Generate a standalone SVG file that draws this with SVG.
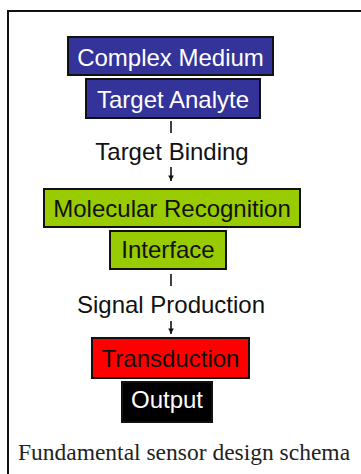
<svg xmlns="http://www.w3.org/2000/svg" width="361" height="474" viewBox="0 0 361 474">
  <style>
    .box { stroke: #111; stroke-width: 2; }
    .lbl { font-family: "Liberation Sans", Arial, sans-serif; font-size: 24px; text-anchor: middle; }
    .light { fill: #ffffff; }
    .dark { fill: #111111; }
    .conn { stroke: #111; stroke-width: 1.6; fill: none; }
    .cap { font-family: "Liberation Serif", "Times New Roman", serif; font-size: 23.5px; text-anchor: middle; fill: #222; }
  </style>
  <defs>
    <marker id="arrow" viewBox="0 0 10 10" refX="10" refY="5" markerWidth="3.5" markerHeight="3.5" orient="auto" markerUnits="strokeWidth">
      <path d="M0,0 L10,5 L0,10 Z" fill="#111"/>
    </marker>
  </defs>

  <rect width="361" height="474" fill="#ffffff"/>
  <!-- frame: top and left edges -->
  <path d="M8,474 V11 H361" fill="none" stroke="#111" stroke-width="2"/>

  <g id="complex-medium">
    <rect class="box" x="68" y="37" width="205" height="38" fill="#333399"/>
    <text class="lbl light" x="170.5" y="66">Complex Medium</text>
  </g>
  <g id="target-analyte">
    <rect class="box" x="86" y="79" width="174" height="39" fill="#333399"/>
    <text class="lbl light" x="173" y="108">Target Analyte</text>
  </g>
  <g id="target-binding">
    <text class="lbl dark" x="172" y="160">Target Binding</text>
  </g>
  <g id="molecular-recognition">
    <rect class="box" x="44" y="189" width="256" height="38" fill="#99cc00"/>
    <text class="lbl dark" x="172" y="217">Molecular Recognition</text>
  </g>
  <g id="interface">
    <rect class="box" x="110" y="231" width="116" height="38" fill="#99cc00"/>
    <text class="lbl dark" x="168" y="258">Interface</text>
  </g>
  <g id="signal-production">
    <text class="lbl dark" x="171" y="313">Signal Production</text>
  </g>
  <g id="transduction">
    <rect class="box" x="92" y="338" width="157" height="40" fill="#ff0000"/>
    <text class="lbl dark" x="170.5" y="367">Transduction</text>
  </g>
  <g id="output">
    <rect class="box" x="122" y="382" width="90" height="40" fill="#000000"/>
    <text class="lbl light" x="167" y="408">Output</text>
  </g>

  <g id="connectors">
    <line class="conn" x1="171" y1="121" x2="171" y2="133"/>
    <line class="conn" x1="171" y1="167" x2="171" y2="181" marker-end="url(#arrow)"/>
    <line class="conn" x1="171" y1="274" x2="171" y2="286"/>
    <line class="conn" x1="171" y1="321" x2="171" y2="334" marker-end="url(#arrow)"/>
  </g>

  <text class="cap" x="184" y="460">Fundamental sensor design schema</text>
</svg>
